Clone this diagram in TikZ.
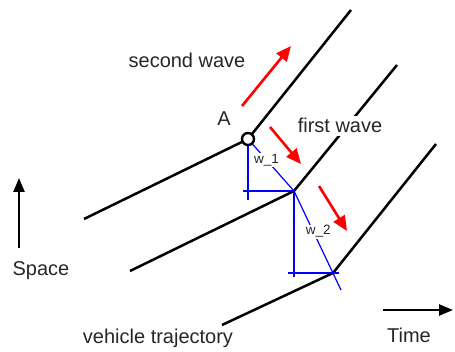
\documentclass[tikz,border=0pt]{standalone}
\usepackage{fontspec}
\setmainfont{Liberation Sans}
\usetikzlibrary{arrows.meta}

\begin{document}
\begin{tikzpicture}[
    x=1pt, y=-1pt,
    font=\fontsize{20}{24}\selectfont,
    traj/.style={line width=2.5pt, black},
    helper/.style={line width=1.2pt, blue},
    wave/.style={line width=2.6pt, red, -{Triangle[length=15pt, width=13pt]}},
    axis/.style={line width=2.5pt, black, -{Triangle[length=14pt, width=11pt]}},
    lbl/.style={text=black!85, anchor=base, inner sep=0pt},
    wlbl/.style={font=\fontsize{13.5}{16}\selectfont, fill=white, inner sep=1pt, text=black!85},
    pt/.style={circle, draw=black, fill=white, line width=2.4pt, minimum size=12pt, inner sep=0pt}
  ]
  \useasboundingbox (0,0) rectangle (455,352);

  % trajectory points
  \coordinate (s1) at (84,219);
  \coordinate (a)  at (248,139);
  \coordinate (e1) at (351,10);
  \coordinate (s2) at (130,271);
  \coordinate (k1) at (294,191);
  \coordinate (e2) at (397,65);
  \coordinate (s3) at (222,325);
  \coordinate (k2) at (333,273);
  \coordinate (e3) at (436,144);

  \draw[traj] (s1) -- (a) -- (e1);
  \draw[traj] (s2) -- (k1) -- (e2);
  \draw[traj] (s3) -- (k2) -- (e3);

  % wave speed construction
  \coordinate (v1) at (248,200);
  \coordinate (h1) at (243,191);
  \coordinate (v2) at (294,277);
  \coordinate (h2) at (288,273);
  \coordinate (h2e) at (339,273);
  \coordinate (d2) at (341,290);

  \draw[helper] (a) -- (v1);
  \draw[helper] (h1) -- (k1);
  \draw[helper] (k1) -- (v2);
  \draw[helper] (h2) -- (h2e);
  \draw[helper] (a) -- node[wlbl, pos=0.4] (w1) {w\_1} (k1);
  \draw[helper] (k1) -- node[wlbl, pos=0.41, xshift=5pt] (w2) {w\_2} (d2);

  % waves
  \coordinate (r1a) at (242,106);
  \coordinate (r1b) at (291,46);
  \coordinate (r2a) at (270,127);
  \coordinate (r2b) at (301,164);
  \coordinate (r3a) at (319,186);
  \coordinate (r3b) at (347,231);

  \draw[wave] (r1a) -- (r1b);
  \draw[wave] (r2a) -- (r2b);
  \draw[wave] (r3a) -- (r3b);

  % axes
  \coordinate (sp0) at (19,248);
  \coordinate (sp1) at (19,178);
  \coordinate (tm0) at (383,310);
  \coordinate (tm1) at (453,310);
  \draw[axis] (sp0) -- (sp1);
  \draw[axis] (tm0) -- (tm1);

  \node[pt] (A) at (a) {};

  % labels
  \node[lbl] (second) at (187,68) {second wave};
  \node[lbl] (Alab) at (224,126) {A};
  \node[lbl, fill=white, inner sep=3pt] (first) at (340,133) {first wave};
  \node[lbl] (space) at (41,276) {Space};
  \node[lbl] (veh) at (158,344) {vehicle trajectory};
  \node[lbl] (time) at (409,343) {Time};
\end{tikzpicture}
\end{document}
